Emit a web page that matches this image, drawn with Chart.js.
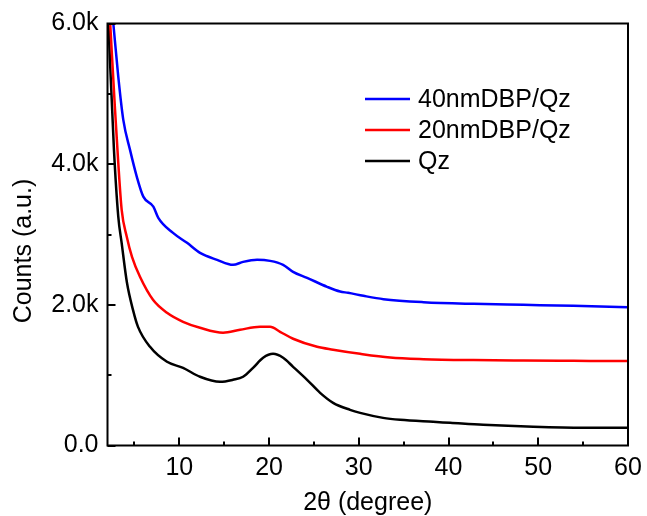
<!DOCTYPE html>
<html><head><meta charset="utf-8">
<script src="https://cdn.jsdelivr.net/npm/chart.js@4.4.1/dist/chart.umd.min.js"></script>
<style>html,body{margin:0;padding:0;background:#fff}#wrap{width:647px;height:516px}</style>
</head><body><div id="wrap"><canvas id="c" width="647" height="516"></canvas></div>
<script>
const seriesLabels = ['40nmDBP/Qz', '20nmDBP/Qz', 'Qz'];
const seriesColors = ['#0000ff', '#ff0000', '#000000'];

const blueX = [2.65, 3.20, 3.76, 4.51, 5.26, 5.99, 7.11, 7.66, 9.30, 10.86, 12.31, 14.21, 15.99, 17.11, 18.67, 20.12, 21.57, 22.68, 24.24, 26.47, 27.92, 28.81, 30.52, 32.75, 37.21, 42.78, 48.36, 53.93, 60];
const blueY = [6000, 5245, 4630, 4203, 3824, 3539, 3397, 3237, 3023, 2881, 2739, 2640, 2569, 2611, 2640, 2625, 2569, 2469, 2384, 2256, 2189, 2171, 2128, 2081, 2038, 2014, 2000, 1986, 1967];

const redX = [2.3, 2.84, 3.20, 3.58, 4.14, 4.73, 5.62, 7.07, 8.63, 10.42, 12.31, 14.88, 16.77, 19.00, 20.12, 21.23, 22.68, 25.36, 27.14, 30.15, 33.49, 37.21, 42.78, 48.36, 53.93, 60];
const redY = [6000, 4771, 4018, 3351, 2971, 2682, 2398, 2071, 1887, 1759, 1674, 1603, 1645, 1688, 1688, 1617, 1518, 1403, 1362, 1303, 1251, 1228, 1214, 1208, 1204, 1200];

const blackX = [2.1, 2.72, 3.20, 3.58, 4.17, 4.84, 5.40, 6.74, 8.63, 10.42, 12.31, 14.54, 15.99, 17.11, 18.22, 19.34, 20.45, 21.57, 22.68, 24.24, 25.69, 27.14, 29.03, 30.15, 32.71, 34.61, 38.29, 40.18, 43.86, 49.44, 55.01, 60];
const blackY = [6000, 4203, 3255, 2877, 2313, 1929, 1687, 1403, 1190, 1104, 977, 905, 934, 977, 1104, 1247, 1303, 1247, 1119, 934, 749, 607, 507, 464, 393, 365, 336, 322, 294, 266, 252, 252];

const xTicks = [10, 20, 30, 40, 50, 60];
const xMinorTicks = [5, 15, 25, 35, 45, 55];
const yTicks = [0, 2000, 4000, 6000];
const yTickLabels = ['0.0', '2.0k', '4.0k', '6.0k'];
const yMinorTicks = [1000, 3000, 5000];
const xTitle = '2θ (degree)';
const yTitle = 'Counts (a.u.)';

const toPts = (xs, ys) => xs.map((x, i) => ({x: x, y: ys[i]}));
const seriesData = [toPts(blueX, blueY), toPts(redX, redY), toPts(blackX, blackY)];

const FONT = 'Liberation Sans, Arial, sans-serif';

const decor = {
  id: 'decor',
  afterDatasetsDraw(chart) {
    const {ctx, chartArea: a, scales: {x, y}} = chart;
    ctx.save();
    ctx.strokeStyle = '#000';
    ctx.lineWidth = 2;
    ctx.lineCap = 'butt';
    ctx.strokeRect(a.left, a.top, a.right - a.left, a.bottom - a.top);
    ctx.beginPath();
    xTicks.forEach(v => { const p = Math.round(x.getPixelForValue(v)); ctx.moveTo(p, a.bottom); ctx.lineTo(p, a.bottom - 8); });
    xMinorTicks.forEach(v => { const p = Math.round(x.getPixelForValue(v)); ctx.moveTo(p, a.bottom); ctx.lineTo(p, a.bottom - 4); });
    yTicks.forEach(v => { const p = Math.round(y.getPixelForValue(v)); ctx.moveTo(a.left, p); ctx.lineTo(a.left + 8, p); });
    yMinorTicks.forEach(v => { const p = Math.round(y.getPixelForValue(v)); ctx.moveTo(a.left, p); ctx.lineTo(a.left + 4, p); });
    ctx.stroke();
    ctx.save();
    ctx.font = '25px ' + FONT;
    ctx.fillStyle = '#000';
    ctx.textAlign = 'center';
    ctx.textBaseline = 'middle';
    ctx.translate(24, 251);
    ctx.rotate(-Math.PI / 2);
    ctx.fillText(yTitle, 0, 0);
    ctx.restore();
    const lx0 = 365, lx1 = 410, tx = 418, ly = [99, 130, 161];
    ctx.font = '25px ' + FONT;
    ctx.textBaseline = 'middle';
    ctx.textAlign = 'left';
    chart.data.datasets.forEach((ds, i) => {
      ctx.strokeStyle = ds.borderColor;
      ctx.lineWidth = 2.5;
      ctx.beginPath();
      ctx.moveTo(lx0, ly[i]); ctx.lineTo(lx1, ly[i]);
      ctx.stroke();
      ctx.fillStyle = '#000';
      ctx.fillText(ds.label, tx, ly[i] + 1);
    });
    ctx.restore();
  }
};

new Chart(document.getElementById('c'), {
  type: 'line',
  data: {
    datasets: seriesLabels.map((l, i) => ({
      label: l,
      data: seriesData[i],
      borderColor: seriesColors[i],
      backgroundColor: seriesColors[i],
      borderWidth: 2.5,
      pointRadius: 0,
      cubicInterpolationMode: 'monotone',
      fill: false
    }))
  },
  options: {
    responsive: false,
    animation: false,
    devicePixelRatio: 1,
    layout: {padding: {top: 23.5, right: 19, left: 0, bottom: 0}},
    plugins: {legend: {display: false}, tooltip: {enabled: false}},
    scales: {
      x: {
        type: 'linear', min: 2, max: 60,
        afterBuildTicks: s => { s.ticks = xTicks.map(v => ({value: v})); },
        afterFit: s => { s.height = 70.5; s.paddingLeft = 0; s.paddingRight = 0; },
        grid: {display: false, drawTicks: false},
        border: {display: false},
        ticks: {font: {size: 25, family: FONT}, color: '#000', padding: 8, maxRotation: 0, autoSkip: false},
        title: {display: true, text: xTitle, color: '#000', font: {size: 25, family: FONT}, padding: {top: 0, bottom: -2}}
      },
      y: {
        type: 'linear', min: 0, max: 6000,
        afterBuildTicks: s => { s.ticks = yTicks.map(v => ({value: v})); },
        afterFit: s => { s.width = 107.5; s.paddingTop = 0; s.paddingBottom = 0; },
        grid: {display: false, drawTicks: false},
        border: {display: false},
        ticks: {font: {size: 25, family: FONT}, color: '#000', padding: 9, autoSkip: false,
          callback: v => yTickLabels[yTicks.indexOf(v)]},
        title: {display: false}
      }
    }
  },
  plugins: [decor]
});
</script></body></html>
